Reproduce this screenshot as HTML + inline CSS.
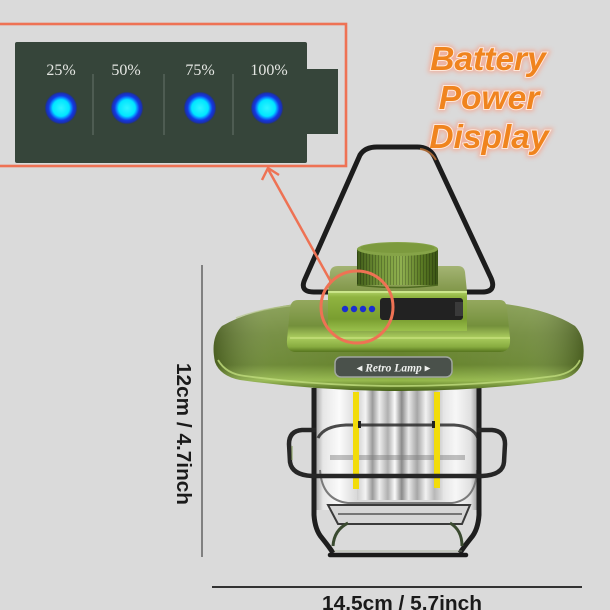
<!DOCTYPE html>
<html><head><meta charset="utf-8">
<style>
html,body{margin:0;padding:0;background:#dadada;}
svg{display:block;}
</style></head>
<body>
<svg width="610" height="610" viewBox="0 0 610 610" xmlns="http://www.w3.org/2000/svg">
<defs>
  <radialGradient id="led" cx="50%" cy="50%" r="50%">
    <stop offset="0" stop-color="#30f4ff"/>
    <stop offset="0.5" stop-color="#00e6ff"/>
    <stop offset="0.62" stop-color="#0a8cff"/>
    <stop offset="0.75" stop-color="#1438e0"/>
    <stop offset="0.9" stop-color="#1a30b0"/>
    <stop offset="1" stop-color="#1a2e8a" stop-opacity="0"/>
  </radialGradient>
  <filter id="glow" x="-20%" y="-40%" width="140%" height="180%">
    <feGaussianBlur stdDeviation="2.5"/>
  </filter>
  <linearGradient id="brim" x1="0" y1="0" x2="0" y2="1">
    <stop offset="0" stop-color="#849c50"/>
    <stop offset="0.35" stop-color="#6e8838"/>
    <stop offset="0.7" stop-color="#64822a"/>
    <stop offset="0.88" stop-color="#94b84a"/>
    <stop offset="1" stop-color="#445e16"/>
  </linearGradient>
  <linearGradient id="brimH" x1="0" y1="0" x2="1" y2="0">
    <stop offset="0" stop-color="#000" stop-opacity="0.28"/>
    <stop offset="0.15" stop-color="#fff" stop-opacity="0.08"/>
    <stop offset="0.5" stop-color="#fff" stop-opacity="0"/>
    <stop offset="0.85" stop-color="#fff" stop-opacity="0.08"/>
    <stop offset="1" stop-color="#000" stop-opacity="0.28"/>
  </linearGradient>
  <linearGradient id="tier" x1="0" y1="0" x2="0" y2="1">
    <stop offset="0" stop-color="#94a85e"/>
    <stop offset="0.5" stop-color="#74903c"/>
    <stop offset="0.72" stop-color="#aacc5e"/>
    <stop offset="0.9" stop-color="#88ac40"/>
    <stop offset="1" stop-color="#56741e"/>
  </linearGradient>
  <linearGradient id="plate" x1="0" y1="0" x2="0" y2="1">
    <stop offset="0" stop-color="#a4b474"/>
    <stop offset="1" stop-color="#809648"/>
  </linearGradient>
  <linearGradient id="face" x1="0" y1="0" x2="0" y2="1">
    <stop offset="0" stop-color="#b2d468"/>
    <stop offset="0.15" stop-color="#90b440"/>
    <stop offset="0.7" stop-color="#7a9e30"/>
    <stop offset="1" stop-color="#9ac04c"/>
  </linearGradient>
  <linearGradient id="knob" x1="0" y1="0" x2="1" y2="0">
    <stop offset="0" stop-color="#3f5a18"/>
    <stop offset="0.3" stop-color="#76983a"/>
    <stop offset="0.55" stop-color="#90b050"/>
    <stop offset="0.8" stop-color="#5a7a24"/>
    <stop offset="1" stop-color="#3a5414"/>
  </linearGradient>
  <pattern id="ribs" width="3" height="10" patternUnits="userSpaceOnUse">
    <rect x="0" y="0" width="1" height="10" fill="#000" fill-opacity="0.22"/>
  </pattern>
  <linearGradient id="glass" x1="0" y1="0" x2="1" y2="0">
    <stop offset="0" stop-color="#8c8c8c"/>
    <stop offset="0.06" stop-color="#e6e6e6"/>
    <stop offset="0.16" stop-color="#fbfbfb"/>
    <stop offset="0.26" stop-color="#dadada"/>
    <stop offset="0.74" stop-color="#dadada"/>
    <stop offset="0.86" stop-color="#f7f7f7"/>
    <stop offset="0.95" stop-color="#e0e0e0"/>
    <stop offset="1" stop-color="#8c8c8c"/>
  </linearGradient>
  <linearGradient id="core" x1="0" y1="0" x2="1" y2="0">
    <stop offset="0" stop-color="#cfcfcf"/>
    <stop offset="0.1" stop-color="#f4f4f4"/>
    <stop offset="0.18" stop-color="#9a9a9a"/>
    <stop offset="0.26" stop-color="#ededed"/>
    <stop offset="0.36" stop-color="#b0b0b0"/>
    <stop offset="0.44" stop-color="#fafafa"/>
    <stop offset="0.52" stop-color="#8a8a8a"/>
    <stop offset="0.6" stop-color="#e8e8e8"/>
    <stop offset="0.7" stop-color="#a6a6a6"/>
    <stop offset="0.8" stop-color="#f2f2f2"/>
    <stop offset="0.9" stop-color="#b8b8b8"/>
    <stop offset="1" stop-color="#e0e0e0"/>
  </linearGradient>
</defs>

<rect x="0" y="0" width="610" height="610" fill="#dadada"/>

<!-- Battery panel -->
<rect x="15" y="42" width="292" height="121" rx="2" fill="#36453a"/>
<rect x="305" y="69" width="33" height="65" fill="#36453a"/>
<g stroke="#66726b" stroke-width="1">
  <line x1="93" y1="74" x2="93" y2="135"/>
  <line x1="164" y1="74" x2="164" y2="135"/>
  <line x1="233" y1="74" x2="233" y2="135"/>
</g>
<g font-family="'Liberation Serif', serif" font-size="16" fill="#e4e6e2" text-anchor="middle">
  <text x="61" y="75">25%</text>
  <text x="126" y="75">50%</text>
  <text x="200" y="75">75%</text>
  <text x="269" y="75">100%</text>
</g>
<g fill="url(#led)">
  <circle cx="61" cy="108" r="16.5"/>
  <circle cx="127" cy="108" r="16.5"/>
  <circle cx="200" cy="108" r="16.5"/>
  <circle cx="267" cy="108" r="16.5"/>
</g>

<!-- Orange callout box -->
<rect x="-3" y="24" width="349" height="142" fill="none" stroke="#ee7254" stroke-width="2.6"/>

<!-- Title text -->
<g font-family="'Liberation Sans', sans-serif" font-weight="bold" font-style="italic" font-size="33.5" text-anchor="middle">
  <g fill="#f5a58f" stroke="#f5a58f" stroke-width="5" filter="url(#glow)" opacity="0.8">
    <text x="488" y="70">Battery</text>
    <text x="489" y="109">Power</text>
    <text x="489" y="148">Display</text>
  </g>
  <g fill="#f0841e" stroke="#fde8dc" stroke-width="2" paint-order="stroke">
    <text x="488" y="70">Battery</text>
    <text x="489" y="109">Power</text>
    <text x="489" y="148">Display</text>
  </g>
</g>

<!-- Dimension lines -->
<line x1="202" y1="265" x2="202" y2="557" stroke="#6a6a6a" stroke-width="1.6"/>
<text transform="translate(177,434) rotate(90)" text-anchor="middle" font-family="'Liberation Sans', sans-serif" font-weight="bold" font-size="20" fill="#1a1a1a" textLength="142" lengthAdjust="spacingAndGlyphs">12cm / 4.7inch</text>
<line x1="212" y1="587" x2="582" y2="587" stroke="#1a1a1a" stroke-width="1.8"/>
<text x="402" y="610" text-anchor="middle" font-family="'Liberation Sans', sans-serif" font-weight="bold" font-size="20.5" fill="#1a1a1a" textLength="160" lengthAdjust="spacingAndGlyphs">14.5cm / 5.7inch</text>

<!-- Handle (behind) -->
<path d="M332 292 L314 292 Q299 292 305 279 L360 155 Q365 147 377 147 L417 147 Q429 147 434 156 L491 278 Q497 292 482 292 L466 292" fill="none" stroke="#1c1c1c" stroke-width="5" stroke-linejoin="round" stroke-linecap="round"/>
<path d="M420 149 Q430 150 436 160" fill="none" stroke="#c87a3c" stroke-width="2" opacity="0.8"/>

<!-- Glass body -->
<rect x="313" y="385" width="166" height="125" fill="url(#glass)"/>
<rect x="357" y="387" width="86" height="113" fill="url(#core)"/>
<rect x="330" y="455" width="135" height="5" fill="#7a7a7a" opacity="0.45"/>
<path d="M318 438 Q324 426 346 425 L454 425 Q473 426 478 438" fill="none" stroke="#2c2c2c" stroke-width="3" opacity="0.85"/>
<!-- glass bottom -->
<path d="M320 470 Q322 500 348 503 L452 503 Q476 500 477 470" fill="none" stroke="#7a7a7a" stroke-width="2"/>
<path d="M328 505 L470 505 L462 524 L338 524 Z" fill="#d6d6d6" stroke="#3a3a3a" stroke-width="2"/>
<line x1="338" y1="514" x2="462" y2="514" stroke="#555" stroke-width="1.5"/>
<!-- filaments -->
<rect x="353" y="392" width="6" height="97" fill="#f2dc0a"/>
<rect x="434" y="392" width="6" height="96" fill="#f2dc0a"/>
<rect x="358" y="421" width="3" height="7" fill="#222"/>
<rect x="432" y="421" width="3" height="7" fill="#222"/>

<!-- Side posts and feet -->
<path d="M314 388 L314 515 Q315 530 322 538 Q330 548 333 553" fill="none" stroke="#1e1e1e" stroke-width="5"/>
<path d="M479 388 L479 515 Q478 530 471 538 Q463 548 460 553" fill="none" stroke="#1e1e1e" stroke-width="5"/>
<path d="M348 523 Q334 530 333 546" fill="none" stroke="#3a4a30" stroke-width="3"/>
<path d="M450 523 Q462 530 462 546" fill="none" stroke="#3a4a30" stroke-width="3"/>
<path d="M330 555 L466 555" stroke="#1a1a1a" stroke-width="4.5" stroke-linecap="round"/>
<path d="M334 551 L462 551" stroke="#8a9a7a" stroke-width="1" opacity="0.6"/>

<!-- Cage ring -->
<path d="M316 430 L302 430 Q289 431 289 444 L290 462 Q292 475 312 476 L482 476 Q503 475 504 462 L505 444 Q505 431 492 430 L477 430" fill="none" stroke="#262626" stroke-width="4.5" stroke-linejoin="round"/>
<path d="M292 446 L292 460" stroke="#8aa060" stroke-width="1.5" opacity="0.7"/>

<!-- Brim -->
<path d="M222 326 Q250 310 295 304 L505 304 Q550 310 575 326 Q586 338 583 360 Q579 376 560 380 Q480 391 400 391 Q320 391 240 380 Q220 376 215 362 Q210 338 222 326 Z" fill="url(#brim)"/>
<path d="M222 326 Q250 310 295 304 L505 304 Q550 310 575 326 Q586 338 583 360 Q579 376 560 380 Q480 391 400 391 Q320 391 240 380 Q220 376 215 362 Q210 338 222 326 Z" fill="url(#brimH)"/>
<path d="M218 360 Q226 374 245 376 Q320 386 400 386 Q480 386 555 376 Q574 373 580 360" fill="none" stroke="#bcd87a" stroke-width="1.8" opacity="0.85"/>
<path d="M236 318 Q262 308 298 305" fill="none" stroke="#b8c890" stroke-width="1.5" opacity="0.7"/>

<!-- Middle tier -->
<path d="M298 300 L500 300 Q506 300 507 308 L510 338 Q511 352 500 352 L296 352 Q286 352 287 340 L290 308 Q291 300 298 300 Z" fill="url(#tier)"/>
<path d="M290 338 L510 338" stroke="#c2de78" stroke-width="2" opacity="0.8"/>

<!-- Upper block top plate -->
<path d="M338 266 L458 266 Q464 266 465 272 L467 292 L328 292 L330 272 Q331 266 338 266 Z" fill="url(#plate)"/>
<!-- Knob -->
<rect x="357" y="249" width="81" height="36" fill="url(#knob)"/>
<rect x="357" y="252" width="81" height="33" fill="url(#ribs)"/>
<ellipse cx="397.5" cy="249" rx="40.5" ry="7" fill="#86a448"/>
<ellipse cx="397.5" cy="248" rx="37" ry="5" fill="#7c9a3e"/>
<path d="M357 285 Q397 290 438 285" fill="none" stroke="#4e6a20" stroke-width="1.5"/>
<!-- Front face -->
<rect x="328" y="291" width="139" height="40" fill="url(#face)"/>
<line x1="328" y1="292" x2="467" y2="292" stroke="#d6ec98" stroke-width="1.5"/>
<rect x="380" y="298" width="83" height="22" rx="3" fill="#222"/>
<rect x="455" y="302" width="8" height="14" fill="#3a3a3a"/>
<g fill="#1a2ed0">
  <circle cx="345" cy="309" r="3.2"/>
  <circle cx="354" cy="309" r="3.2"/>
  <circle cx="363" cy="309" r="3.2"/>
  <circle cx="372" cy="309" r="3.2"/>
</g>

<!-- Label plate -->
<rect x="335" y="357" width="117" height="20" rx="6" fill="#4a514b" stroke="#a0a6a0" stroke-width="1.5"/>
<text x="393.5" y="371.5" text-anchor="middle" font-family="'Liberation Serif', 'DejaVu Serif', serif" font-style="italic" font-weight="bold" font-size="11.5" fill="#eef0ee">◂ Retro Lamp ▸</text>

<!-- Callout arrow and circle -->
<circle cx="357" cy="307" r="36" fill="none" stroke="#ee7254" stroke-width="3"/>
<line x1="268" y1="169" x2="331" y2="282" stroke="#ee7254" stroke-width="2.5"/>
<polyline points="262,180 268,168 279,175" fill="none" stroke="#ee7254" stroke-width="2.5" stroke-linejoin="miter"/>
</svg>
</body></html>
